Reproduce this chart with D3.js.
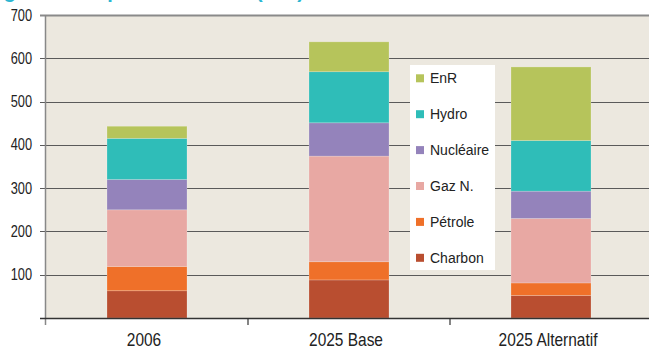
<!DOCTYPE html>
<html>
<head>
<meta charset="utf-8">
<script src="https://cdn.jsdelivr.net/npm/d3@7"></script>
<style>
  html, body { margin: 0; padding: 0; background: #ffffff; }
  svg { display: block; }
  text { font-family: "Liberation Sans", Arial, sans-serif; fill: #222; }
</style>
</head>
<body>
<svg id="chart" width="649" height="349"></svg>
<script>
// Scenarios and energy sources
const categories = ["2006", "2025 Base", "2025 Alternatif"];
const sources = ["Charbon", "Pétrole", "Gaz N.", "Nucléaire", "Hydro", "EnR"];
const charbon   = [63, 88, 52];
const petrole   = [56, 42, 29];
const gazN      = [131, 244, 149];
const nucleaire = [70, 77, 63];
const hydro     = [95, 118, 117];
const enr       = [28, 69, 170];
const yTicks = [100, 200, 300, 400, 500, 600, 700];
const colors = ["#b94e30", "#ef7029", "#e8a8a3", "#9483bb", "#2fbdb8", "#b6c45b"];
const titleText = "Figure 3 : Capacité installée (GW)";

const seriesValues = [charbon, petrole, gazN, nucleaire, hydro, enr];
const rows = categories.map((c, i) => {
  const r = { cat: c };
  sources.forEach((s, j) => { r[s] = seriesValues[j][i]; });
  return r;
});

const svg = d3.select("#chart");
const plotLeft = 46, plotTop = 15, plotBottom = 318, plotRight = 652;

const x = d3.scaleBand().domain(categories).range([plotLeft, plotRight]).paddingInner(0).paddingOuter(0);
const y = d3.scaleLinear().domain([0, 700]).range([plotBottom, plotTop]);

// Title (runs off the top edge)
svg.append("text")
  .attr("x", -14).attr("y", -2)
  .style("font-size", "20px").style("font-weight", "bold")
  .style("fill", "#2cb6d2")
  .text(titleText);

// Plot background
svg.append("rect")
  .attr("x", plotLeft).attr("y", plotTop)
  .attr("width", 649 - plotLeft).attr("height", plotBottom - plotTop)
  .attr("fill", "#ece8df");

// Horizontal gridlines with left tick marks
svg.append("g")
  .selectAll("line")
  .data(yTicks)
  .join("line")
  .attr("x1", plotLeft - 6).attr("x2", 649)
  .attr("y1", d => Math.round(y(d)) + 0.5).attr("y2", d => Math.round(y(d)) + 0.5)
  .attr("stroke", d => d === 700 ? "#8a8a8a" : "#5a5a5a")
  .attr("stroke-width", d => d === 700 ? 2 : 1.1);

// Stacked bars
const stack = d3.stack().keys(sources);
const layers = stack(rows);
const barW = 80;
svg.append("g")
  .selectAll("g")
  .data(layers)
  .join("g")
  .attr("fill", (d, i) => colors[i])
  .selectAll("rect")
  .data(d => d)
  .join("rect")
  .attr("x", d => x(d.data.cat) + x.bandwidth() / 2 - barW / 2)
  .attr("width", barW)
  .attr("y", d => y(d[1]))
  .attr("height", d => y(d[0]) - y(d[1]))
  .attr("stroke", "rgba(255,255,255,0.25)")
  .attr("stroke-width", 0.8);

// Vertical axis line
svg.append("line")
  .attr("x1", plotLeft - 0.5).attr("x2", plotLeft - 0.5)
  .attr("y1", plotTop).attr("y2", plotBottom + 7)
  .attr("stroke", "#888").attr("stroke-width", 1.5);

// Horizontal axis line and category separators
svg.append("line")
  .attr("x1", plotLeft - 6).attr("x2", 649)
  .attr("y1", plotBottom + 0.5).attr("y2", plotBottom + 0.5)
  .attr("stroke", "#333").attr("stroke-width", 1.5);
svg.append("g")
  .selectAll("line")
  .data(categories.slice(1))
  .join("line")
  .attr("x1", d => x(d)).attr("x2", d => x(d))
  .attr("y1", plotBottom).attr("y2", plotBottom + 7)
  .attr("stroke", "#333").attr("stroke-width", 1.2);

// Y tick labels
svg.append("g")
  .selectAll("g")
  .data(yTicks)
  .join("g")
  .attr("transform", d => `translate(32,${y(d) + 5.5}) scale(0.8,1)`)
  .append("text")
  .attr("text-anchor", "end")
  .style("font-size", "16px")
  .text(d => d);

// Category labels
svg.append("g")
  .selectAll("g")
  .data(categories)
  .join("g")
  .attr("transform", d => `translate(${x(d) + x.bandwidth() / 2 - 3},346) scale(0.86,1)`)
  .append("text")
  .attr("text-anchor", "middle")
  .style("font-size", "18px")
  .text(d => d);

// Legend
const legend = svg.append("g");
legend.append("rect")
  .attr("x", 410).attr("y", 65).attr("width", 85).attr("height", 205)
  .attr("fill", "#ffffff");
const legendOrder = sources.slice().reverse();
const item = legend.selectAll("g")
  .data(legendOrder)
  .join("g")
  .attr("transform", (d, i) => `translate(416,${78.3 + i * 35.9})`);
item.append("rect")
  .attr("x", 0).attr("y", -4).attr("width", 8).attr("height", 8)
  .attr("fill", d => colors[sources.indexOf(d)]);
item.append("text")
  .attr("x", 14).attr("y", 5)
  .style("font-size", "14px")
  .text(d => d);
</script>
</body>
</html>
